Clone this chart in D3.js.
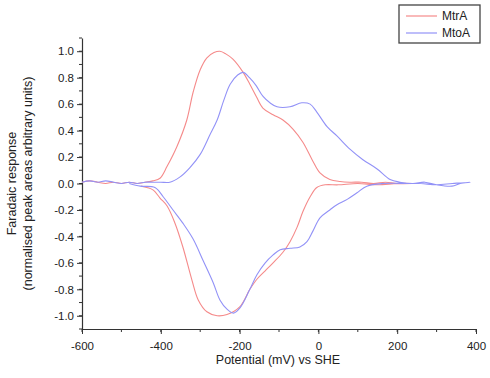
<!DOCTYPE html>
<html>
<head>
<meta charset="utf-8">
<script src="https://cdn.jsdelivr.net/npm/d3@7"></script>
<style>
  body { margin: 0; background: #fff; }
  svg { font-family: "Liberation Sans", Arial, sans-serif; }
</style>
</head>
<body>
<div id="chart"></div>
<script>
// potential (mV) vs normalised faradaic response, forward then reverse sweep
const mtrA = [
  [-600, 0.01], [-580, 0.02], [-560, 0.01], [-540, 0.0], [-520, 0.01], [-500, 0.0],
  [-480, 0.01], [-460, 0.0], [-440, 0.01], [-420, 0.02], [-402, 0.04], [-384, 0.13],
  [-359, 0.28], [-334, 0.48], [-318, 0.69], [-300, 0.86], [-283, 0.95], [-265, 0.99],
  [-250, 1.0], [-235, 0.98], [-217, 0.94], [-191, 0.84], [-174, 0.75], [-158, 0.66],
  [-141, 0.57], [-115, 0.52], [-90, 0.48], [-64, 0.41], [-39, 0.31], [-16, 0.18],
  [4, 0.08], [29, 0.03], [55, 0.015], [80, 0.01], [110, 0.01], [140, 0.0],
  [170, 0.01], [200, 0.0], [237, 0.0],
  [200, 0.0], [150, -0.01], [100, 0.0], [50, -0.01], [17, -0.01], [-4, -0.03],
  [-21, -0.1], [-39, -0.21], [-54, -0.33], [-72, -0.44], [-90, -0.52], [-115, -0.6],
  [-135, -0.66], [-155, -0.72], [-174, -0.8], [-199, -0.93], [-232, -0.99],
  [-257, -1.0], [-283, -0.97], [-305, -0.88], [-321, -0.73], [-344, -0.48],
  [-364, -0.3], [-384, -0.17], [-402, -0.11], [-419, -0.05], [-435, -0.03], [-450, -0.02]
];

const mtoA = [
  [-600, 0.01], [-580, 0.02], [-560, 0.01], [-540, 0.02], [-520, 0.01], [-500, 0.0],
  [-480, 0.01], [-460, 0.0], [-440, 0.01], [-420, 0.01], [-400, 0.01], [-377, 0.01],
  [-351, 0.05], [-326, 0.12], [-300, 0.22], [-275, 0.37], [-257, 0.48], [-240, 0.63],
  [-224, 0.75], [-205, 0.82], [-191, 0.84], [-175, 0.8], [-158, 0.74], [-141, 0.66],
  [-123, 0.61], [-105, 0.58], [-72, 0.58], [-42, 0.61], [-21, 0.6], [-4, 0.54],
  [22, 0.43], [47, 0.36], [80, 0.26], [113, 0.18], [149, 0.11], [182, 0.03],
  [207, 0.01], [240, 0.0], [270, 0.01], [300, -0.01], [339, -0.02], [360, 0.0], [385, 0.01],
  [340, 0.0], [300, -0.01], [260, 0.0], [233, 0.0], [164, 0.0], [123, -0.02],
  [98, -0.07], [73, -0.12], [47, -0.16], [29, -0.2], [4, -0.26], [-14, -0.36],
  [-29, -0.44], [-47, -0.48], [-72, -0.49], [-97, -0.5], [-115, -0.54], [-135, -0.6],
  [-156, -0.69], [-174, -0.8], [-199, -0.94], [-216, -0.98], [-232, -0.95],
  [-250, -0.88], [-267, -0.75], [-293, -0.58], [-318, -0.42], [-344, -0.3],
  [-369, -0.2], [-394, -0.1], [-415, -0.03], [-452, -0.02], [-480, 0.0]
];

const seriesNames = ["MtrA", "MtoA"];
const seriesColors = ["#f58a8a", "#9292f7"];
const xTicks = [-600, -400, -200, 0, 200, 400];
const yTicks = [-1.0, -0.8, -0.6, -0.4, -0.2, 0.0, 0.2, 0.4, 0.6, 0.8, 1.0];

const W = 490, H = 378;
const plot = { left: 82, right: 476, top: 38, bottom: 329 };

const svg = d3.select("#chart").append("svg")
  .attr("width", W).attr("height", H);

const x = d3.scaleLinear().domain([-600, 400]).range([plot.left, plot.right]);
const y = d3.scaleLinear().domain([-1.1, 1.1]).range([plot.bottom, plot.top]);

const axisColor = "#333";
// plain hyphen instead of d3's unicode minus
const hyph = f => d => f(d).replace("\u2212", "-");

// minor ticks
const xMinor = d3.range(-600, 401, 100);
const yMinor = d3.range(-11, 12).map(d => d / 10);

svg.append("g").selectAll("line").data(xMinor).enter().append("line")
  .attr("x1", d => x(d)).attr("x2", d => x(d))
  .attr("y1", plot.bottom).attr("y2", plot.bottom + 3)
  .attr("stroke", axisColor);
svg.append("g").selectAll("line").data(yMinor).enter().append("line")
  .attr("x1", plot.left - 3).attr("x2", plot.left)
  .attr("y1", d => y(d)).attr("y2", d => y(d))
  .attr("stroke", axisColor);

const xAxis = svg.append("g")
  .attr("transform", `translate(0,${plot.bottom})`)
  .call(d3.axisBottom(x).tickValues(xTicks).tickSize(5).tickSizeOuter(0)
    .tickFormat(hyph(d3.format("d"))));
const yAxis = svg.append("g")
  .attr("transform", `translate(${plot.left},0)`)
  .call(d3.axisLeft(y).tickValues(yTicks).tickSize(5).tickSizeOuter(0)
    .tickFormat(hyph(d3.format(".1f"))));

[xAxis, yAxis].forEach(g => {
  g.select(".domain").attr("stroke", axisColor).attr("stroke-width", 1.2);
  g.selectAll(".tick line").attr("stroke", axisColor);
  g.selectAll(".tick text").attr("fill", "#222").style("font-size", "11.5px")
    .style("font-family", "'Liberation Sans', Arial, sans-serif");
});
xAxis.selectAll(".tick text").attr("dy", "1.1em");

// curves
const line = d3.line()
  .x(d => x(d[0])).y(d => y(d[1]))
  .curve(d3.curveCatmullRom.alpha(0.5));
[mtrA, mtoA].forEach((data, i) => {
  svg.append("path")
    .datum(data)
    .attr("fill", "none")
    .attr("stroke", seriesColors[i])
    .attr("stroke-width", 1.1)
    .attr("d", line);
});

// axis titles
svg.append("text")
  .attr("transform", "translate(278,364)")
  .attr("text-anchor", "middle")
  .style("font-size", "12.5px").attr("fill", "#222")
  .text("Potential (mV) vs SHE");

svg.append("text")
  .attr("transform", `translate(16,${y(0)}) rotate(-90)`)
  .attr("text-anchor", "middle")
  .style("font-size", "12.5px").attr("fill", "#222")
  .text("Faradaic response");
svg.append("text")
  .attr("transform", `translate(32,${y(0)}) rotate(-90)`)
  .attr("text-anchor", "middle")
  .style("font-size", "12.5px").attr("fill", "#222")
  .text("(normalised peak areas arbitrary units)");

// legend
const legend = svg.append("g").attr("transform", "translate(399,5)");
legend.append("rect")
  .attr("width", 81).attr("height", 38)
  .attr("fill", "#fff").attr("stroke", "#444").attr("stroke-width", 1.3);
seriesNames.forEach((name, i) => {
  const ly = 11 + i * 17;
  legend.append("line")
    .attr("x1", 7).attr("x2", 38).attr("y1", ly).attr("y2", ly)
    .attr("stroke", seriesColors[i]).attr("stroke-width", 1.2);
  legend.append("text")
    .attr("x", 43).attr("y", ly + 4)
    .style("font-size", "12px").attr("fill", "#222")
    .text(name);
});
</script>
</body>
</html>
